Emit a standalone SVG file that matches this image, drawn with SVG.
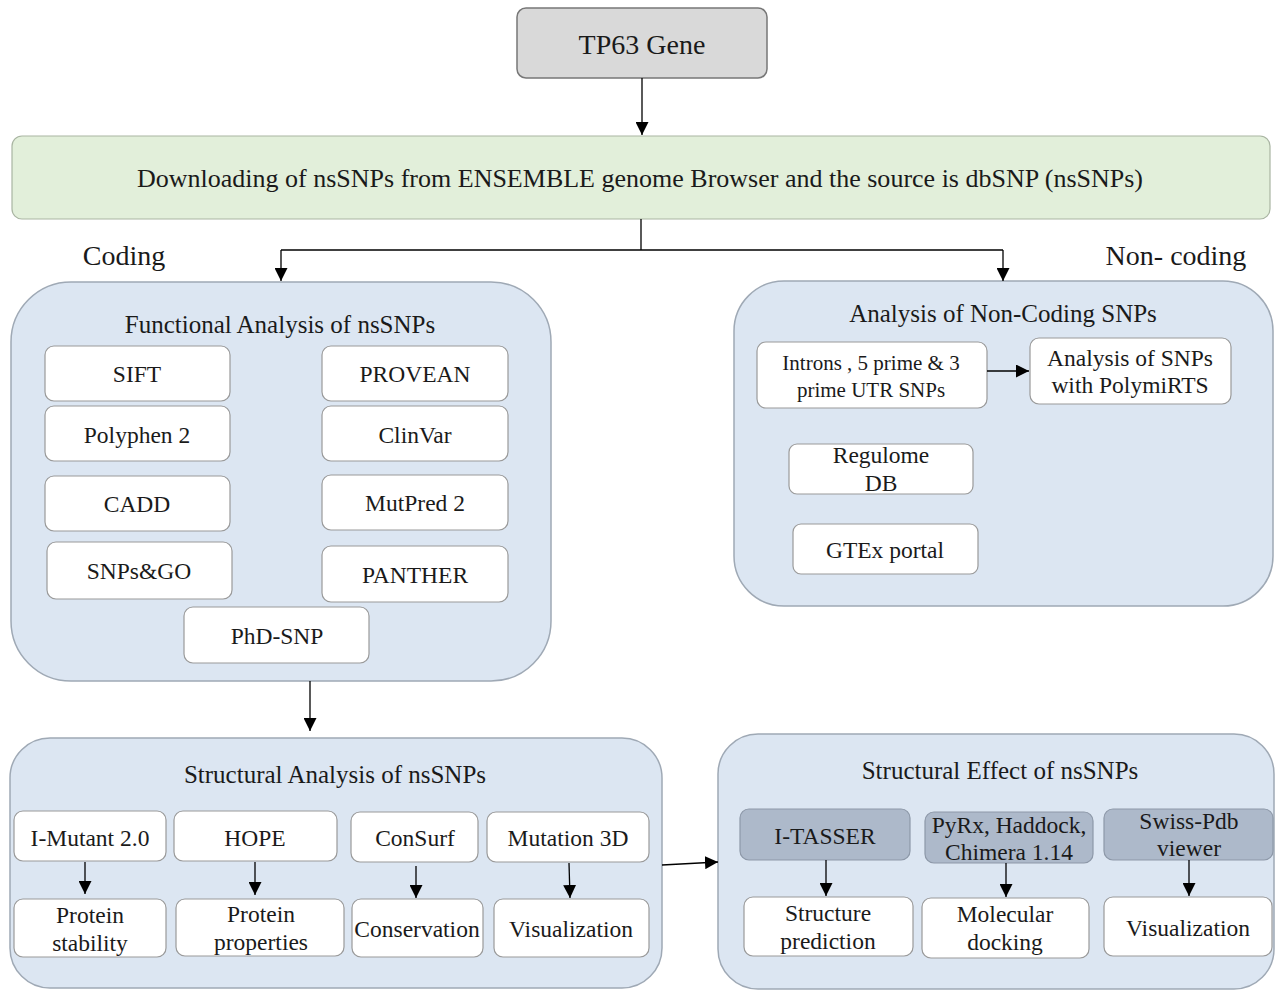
<svg xmlns="http://www.w3.org/2000/svg" width="1275" height="991" viewBox="0 0 1275 991">
<defs>
<marker id="ah" viewBox="0 0 10 10" refX="10" refY="5" markerWidth="13" markerHeight="13" markerUnits="userSpaceOnUse" orient="auto">
<path d="M0,0 L10,5 L0,10 z" fill="#000"/>
</marker>
<style>
text{font-family:"Liberation Serif","Times New Roman",serif;fill:#1a1a1a;text-anchor:middle}
.t{font-size:28px}
.h{font-size:25px}
.b{font-size:23.5px}
.s{font-size:21px}
.panel{fill:#dce6f2;stroke:#9fa9b5;stroke-width:1.5}
.wb{fill:#fff;stroke:#9a9a9a;stroke-width:1.2}
.gb{fill:#adb9ca;stroke:#8d98a8;stroke-width:1.2}
.ln{fill:none;stroke:#000;stroke-width:1.3}
</style>
</defs>
<rect width="1275" height="991" fill="#fff"/>

<g id="tp63">
<rect x="517" y="8" width="250" height="70" rx="9" fill="#d9d9d9" stroke="#777" stroke-width="1.5"/>
<text x="642" y="54" class="t">TP63 Gene</text>
</g>

<g id="download">
<rect x="12" y="136" width="1258" height="83" rx="10" fill="#e2efda" stroke="#a9b5a2" stroke-width="1.2"/>
<text x="640" y="187" class="t" style="font-size:26px" textLength="1006" lengthAdjust="spacingAndGlyphs">Downloading of nsSNPs from ENSEMBLE  genome Browser and  the source is dbSNP (nsSNPs)</text>
</g>

<g id="labels">
<text x="124" y="265" class="t">Coding</text>
<text x="1176" y="265" class="t">Non- coding</text>
</g>

<g id="functional">
<rect x="11" y="282" width="540" height="399" rx="60" class="panel"/>
<text x="280" y="333" class="h">Functional  Analysis of  nsSNPs</text>
<g id="sift"><rect x="45" y="346" width="185" height="55" rx="9" class="wb"/><text x="137" y="382" class="b">SIFT</text></g>
<g id="provean"><rect x="322" y="346" width="186" height="55" rx="9" class="wb"/><text x="415" y="382" class="b">PROVEAN</text></g>
<g id="polyphen"><rect x="45" y="406" width="185" height="55" rx="9" class="wb"/><text x="137" y="443" class="b">Polyphen 2</text></g>
<g id="clinvar"><rect x="322" y="406" width="186" height="55" rx="9" class="wb"/><text x="415" y="443" class="b">ClinVar</text></g>
<g id="cadd"><rect x="45" y="476" width="185" height="55" rx="9" class="wb"/><text x="137" y="512" class="b">CADD</text></g>
<g id="mutpred"><rect x="322" y="475" width="186" height="55" rx="9" class="wb"/><text x="415" y="511" class="b">MutPred 2</text></g>
<g id="snpsgo"><rect x="47" y="542" width="185" height="57" rx="9" class="wb"/><text x="139" y="579" class="b">SNPs&amp;GO</text></g>
<g id="panther"><rect x="322" y="546" width="186" height="56" rx="9" class="wb"/><text x="415" y="583" class="b">PANTHER</text></g>
<g id="phdsnp"><rect x="184" y="607" width="185" height="56" rx="9" class="wb"/><text x="277" y="644" class="b">PhD-SNP</text></g>
</g>

<g id="noncoding">
<rect x="734" y="281" width="539" height="325" rx="50" class="panel"/>
<text x="1003" y="322" class="h">Analysis of Non-Coding  SNPs</text>
<g id="introns"><rect x="757" y="342" width="230" height="66" rx="9" class="wb"/><text x="871" y="370" class="s">Introns , 5 prime  &amp; 3</text><text x="871" y="397" class="s">prime UTR SNPs</text></g>
<g id="polymirts"><rect x="1030" y="338" width="201" height="66" rx="9" class="wb"/><text x="1130" y="366" class="b">Analysis  of SNPs</text><text x="1130" y="393" class="b">with PolymiRTS</text></g>
<g id="regulome"><rect x="789" y="444" width="184" height="50" rx="8" class="wb"/><text x="881" y="463" class="b">Regulome</text><text x="881" y="491" class="b">DB</text></g>
<g id="gtex"><rect x="793" y="524" width="185" height="50" rx="8" class="wb"/><text x="885" y="558" class="b">GTEx portal</text></g>
</g>

<g id="structural">
<rect x="10" y="738" width="652" height="250" rx="40" class="panel"/>
<text x="335" y="783" class="h">Structural  Analysis of nsSNPs</text>
<g id="imutant"><rect x="14" y="811" width="152" height="50" rx="9" class="wb"/><text x="90" y="846" class="b">I-Mutant 2.0</text></g>
<g id="hope"><rect x="174" y="811" width="163" height="50" rx="9" class="wb"/><text x="255" y="846" class="b">HOPE</text></g>
<g id="consurf"><rect x="351" y="812" width="127" height="50" rx="9" class="wb"/><text x="415" y="846" class="b">ConSurf</text></g>
<g id="mutation3d"><rect x="487" y="812" width="162" height="50" rx="9" class="wb"/><text x="568" y="846" class="b">Mutation 3D</text></g>
<g id="pstab"><rect x="14" y="899" width="152" height="58" rx="9" class="wb"/><text x="90" y="923" class="b">Protein</text><text x="90" y="951" class="b">stability</text></g>
<g id="pprop"><rect x="176" y="899" width="168" height="57" rx="9" class="wb"/><text x="261" y="922" class="b">Protein</text><text x="261" y="950" class="b">properties</text></g>
<g id="conservation"><rect x="352" y="899" width="131" height="58" rx="9" class="wb"/><text x="417" y="937" class="b">Conservation</text></g>
<g id="vis1"><rect x="494" y="899" width="155" height="58" rx="9" class="wb"/><text x="571" y="937" class="b">Visualization</text></g>
</g>

<g id="effect">
<rect x="718" y="734" width="556" height="255" rx="40" class="panel"/>
<text x="1000" y="779" class="h">Structural  Effect of nsSNPs</text>
<g id="itasser"><rect x="740" y="809" width="170" height="51" rx="9" class="gb"/><text x="825" y="844" class="b">I-TASSER</text></g>
<g id="pyrx"><rect x="925" y="812" width="168" height="51" rx="9" class="gb"/><text x="1009" y="833" class="b">PyRx, Haddock,</text><text x="1009" y="860" class="b">Chimera 1.14</text></g>
<g id="swiss"><rect x="1104" y="809" width="169" height="51" rx="9" class="gb"/><text x="1189" y="829" class="b">Swiss-Pdb</text><text x="1189" y="856" class="b">viewer</text></g>
<g id="structpred"><rect x="744" y="897" width="169" height="59" rx="9" class="wb"/><text x="828" y="921" class="b">Structure</text><text x="828" y="949" class="b">prediction</text></g>
<g id="docking"><rect x="922" y="898" width="167" height="60" rx="9" class="wb"/><text x="1005" y="922" class="b">Molecular</text><text x="1005" y="950" class="b">docking</text></g>
<g id="vis2"><rect x="1104" y="897" width="168" height="59" rx="9" class="wb"/><text x="1188" y="936" class="b">Visualization</text></g>
</g>

<g id="connectors">
<line x1="642" y1="78" x2="642" y2="135" class="ln" marker-end="url(#ah)"/>
<path d="M641,219 V250" class="ln"/>
<path d="M281,250 H1003" class="ln"/>
<line x1="281" y1="250" x2="281" y2="281" class="ln" marker-end="url(#ah)"/>
<line x1="1003" y1="250" x2="1003" y2="281" class="ln" marker-end="url(#ah)"/>
<line x1="310" y1="681" x2="310" y2="731" class="ln" marker-end="url(#ah)"/>
<line x1="987" y1="371" x2="1029" y2="371" class="ln" marker-end="url(#ah)"/>
<line x1="85" y1="862" x2="85" y2="894" class="ln" marker-end="url(#ah)"/>
<line x1="255" y1="862" x2="255" y2="895" class="ln" marker-end="url(#ah)"/>
<line x1="416" y1="866" x2="416" y2="898" class="ln" marker-end="url(#ah)"/>
<line x1="569" y1="863" x2="570" y2="898" class="ln" marker-end="url(#ah)"/>
<line x1="662" y1="865" x2="718" y2="862" class="ln" marker-end="url(#ah)"/>
<line x1="826" y1="860" x2="826" y2="896" class="ln" marker-end="url(#ah)"/>
<line x1="1006" y1="863" x2="1006" y2="897" class="ln" marker-end="url(#ah)"/>
<line x1="1189" y1="860" x2="1189" y2="896" class="ln" marker-end="url(#ah)"/>
</g>
</svg>
